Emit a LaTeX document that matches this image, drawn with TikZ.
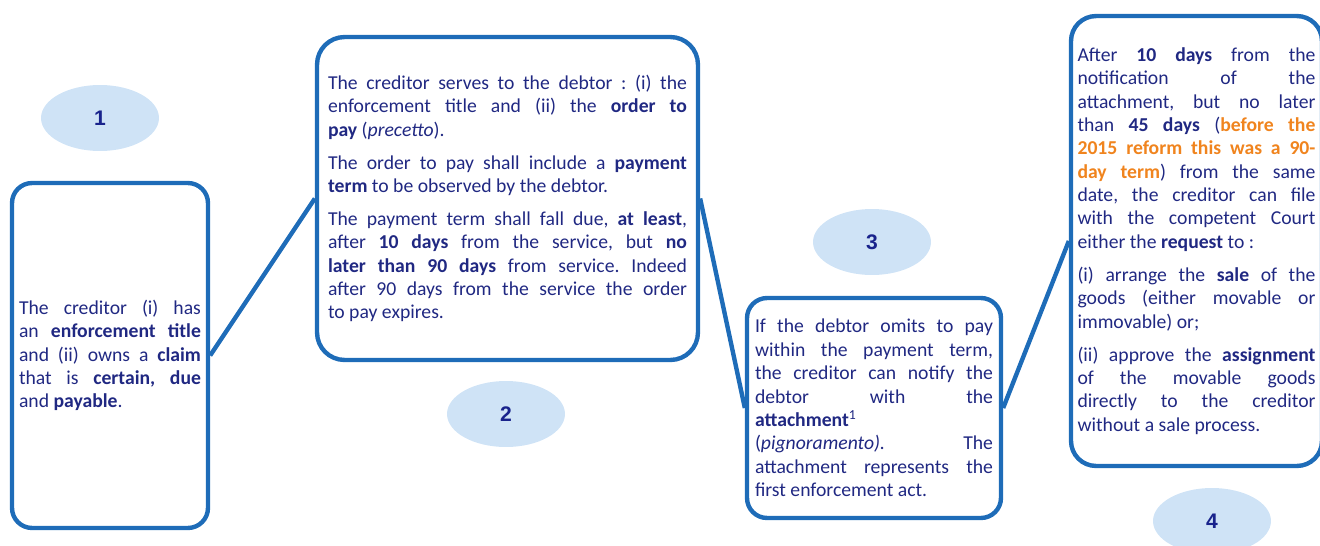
\documentclass[tikz,border=0pt]{standalone}
\usepackage{fontspec}
\setmainfont{Carlito}
\newfontfamily\numfont{Liberation Sans}
\usetikzlibrary{shapes.geometric}
\definecolor{boxblue}{RGB}{30,108,184}
\definecolor{navy}{RGB}{32,40,130}
\definecolor{numnavy}{RGB}{25,35,140}
\definecolor{ovalfill}{RGB}{207,227,246}
\definecolor{reform}{RGB}{240,132,30}
\newcommand{\boxtext}{\fontsize{11.2}{13.3}\selectfont\frenchspacing
	\setlength{\parskip}{5.5pt}\tolerance=10000\hbadness=10000\hyphenpenalty=10000}
\begin{document}
\begin{tikzpicture}[x=0.02cm,y=-0.02cm,
	stepbox/.style={draw=boxblue,line width=2.5pt,rounded corners=0.4cm,inner sep=0pt,align=justify,text=navy,
		execute at begin node=\boxtext},
	oval/.style={ellipse,fill=ovalfill,minimum width=2.36cm,minimum height=1.32cm,text=numnavy,font=\numfont\bfseries\fontsize{12}{14}\selectfont},
	link/.style={draw=boxblue,line width=2.5pt}]
				\useasboundingbox (0,0) rectangle (1320,545);

				\node[oval] (n1) at (100,118) {1};
				\node[oval] (n2) at (506,414) {2};
				\node[oval] (n3) at (872,242) {3};
				\node[oval] (n4) at (1212,521) {4};

				\node[stepbox,minimum width=3.92cm,minimum height=6.9cm,text width=3.64cm] (box1) at (110,355.5)
					{The creditor (i) has\linebreak an \textbf{enforcement title}\linebreak and (ii) owns a \textbf{claim}\linebreak that is \textbf{certain, due}\linebreak and \textbf{payable}.};

				\node[stepbox,rounded corners=0.55cm,minimum width=7.62cm,minimum height=6.46cm,text width=7.18cm] (box2) at (507.5,198.5)
					{\hbox to\linewidth{The\hfill creditor\hfill serves\hfill to\hfill the\hfill debtor\hfill :\hfill (i)\hfill the}\linebreak enforcement title and (ii) the \textbf{order to}\linebreak \textbf{pay} (\textit{precetto}).\par
					The order to pay shall include a \textbf{payment}\linebreak \textbf{term} to be observed by the debtor.\par
					The payment term shall fall due, \textbf{at least},\linebreak after \textbf{10 days} from the service, but \textbf{no}\linebreak \textbf{later than 90 days} from service. Indeed\linebreak after 90 days from the service the order\linebreak to pay expires.};

				\node[stepbox,minimum width=5.08cm,minimum height=4.4cm,text width=4.76cm] (box3) at (874,408)
					{If the debtor omits to pay\linebreak within the payment term,\linebreak the creditor can notify the\linebreak debtor with the\linebreak \textbf{attachment}\textsuperscript{1}\linebreak (\textit{pignoramento).} The\linebreak attachment represents the\linebreak first enforcement act.};

				\node[stepbox,rounded corners=0.5cm,minimum width=5.02cm,minimum height=9cm,text width=4.76cm] (box4) at (1196.5,241)
					{After \textbf{10 days} from the\linebreak notification of the\linebreak attachment, but no later\linebreak than \textbf{45 days} (\textcolor{reform}{\textbf{before the}}\linebreak \textcolor{reform}{\textbf{2015 reform this was a 90-}}\linebreak \textcolor{reform}{\textbf{day term}}) from the same\linebreak date, the creditor can file\linebreak with the competent Court\linebreak either the \textbf{request} to :\par
					(i) arrange the \textbf{sale} of the\linebreak goods (either movable or\linebreak immovable) or;\par
					(ii) approve the \textbf{assignment}\linebreak of the movable goods\linebreak directly to the creditor\linebreak without a sale process.};

				\draw[link] (box1.east) -- (box2.west);
				\draw[link] (box2.east) -- (box3.west);
				\draw[link] (box3.east) -- (box4.west);
\end{tikzpicture}
\end{document}
